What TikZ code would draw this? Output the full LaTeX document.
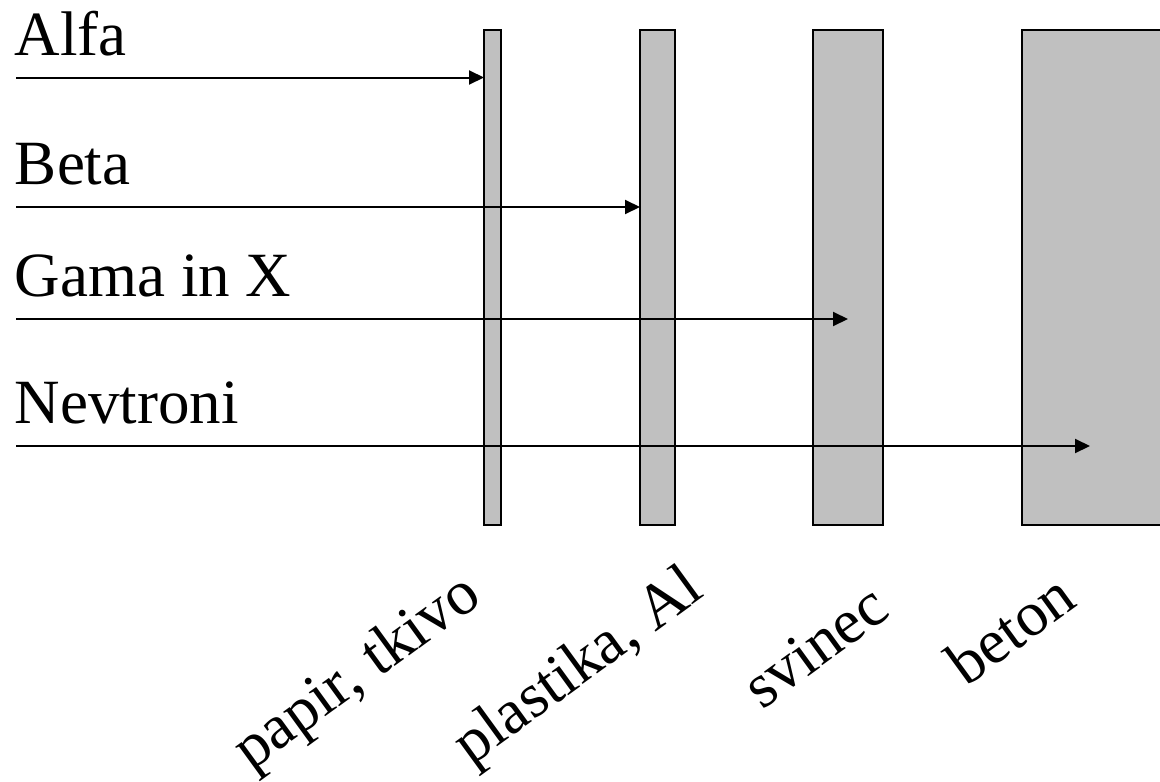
\documentclass[tikz,border=0pt]{standalone}
\usepackage{fontspec}
\setmainfont{Liberation Serif}
\usetikzlibrary{arrows.meta}
\definecolor{shieldgray}{RGB}{192,192,192}
\begin{document}
\begin{tikzpicture}[x=1pt,y=-1pt,
  shield/.style={draw=black, line width=2pt, fill=shieldgray, anchor=north west,
                 inner sep=0pt, outer sep=0pt, minimum height=495pt},
  ray/.style={line width=2pt, -{Triangle[length=15pt,width=14pt]}},
  lbl/.style={anchor=base west, inner sep=0pt, outer sep=0pt,
              font=\fontsize{63}{70}\selectfont},
  mat/.style={lbl, rotate=36}]
  \useasboundingbox (0,0) rectangle (1160,782);
  \clip (0,0) rectangle (1160,782);

  % absorbing layers
  \node[shield, minimum width=17pt]   (paper)    at (484,30)    {};
  \node[shield, minimum width=35pt]   (plastic)  at (640,30)    {};
  \node[shield, minimum width=69.5pt] (lead)     at (813,30)    {};
  \node[shield, minimum width=200pt]  (concrete) at (1021.5,30) {};

  % radiation types
  \node[lbl] (alfa) at (15,55)  {Alfa};
  \node[lbl] (beta) at (15,184) {Beta};
  \node[lbl] (gama) at (15,296) {Gama in X};
  \node[lbl] (nevt) at (15,423) {Nevtroni};

  % ray start and stop points
  \coordinate (a0) at (16,77.5);
  \coordinate (b0) at (16,207);
  \coordinate (g0) at (16,319);
  \coordinate (n0) at (16,446);
  \coordinate (g1) at (848,319);
  \coordinate (n1) at (1090,446);

  \draw[ray] (a0) -- (a0 -| paper.west);
  \draw[ray] (b0) -- (b0 -| plastic.west);
  \draw[ray] (g0) -- (g1);
  \draw[ray] (n0) -- (n1);

  % material names
  \node[mat] (mpaper)    at (251,771) {papir, tkivo};
  \node[mat] (mplastic)  at (471,766) {plastika, Al};
  \node[mat] (mlead)     at (762,710) {svinec};
  \node[mat] (mconcrete) at (966,687) {beton};
\end{tikzpicture}
\end{document}
